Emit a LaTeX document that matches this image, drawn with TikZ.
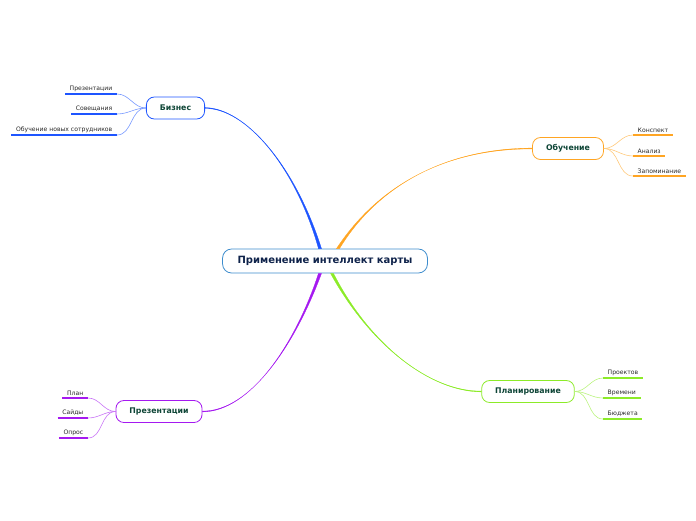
\documentclass[tikz,border=0pt]{standalone}
\usepackage{fontspec}
\setmainfont{DejaVu Sans}
\usetikzlibrary{positioning,calc}
\definecolor{bizBlue}{RGB}{30,85,255}
\definecolor{obuOrange}{RGB}{255,165,35}
\definecolor{planGreen}{RGB}{140,235,40}
\definecolor{prezPurple}{RGB}{165,25,240}
\definecolor{coreBlue}{RGB}{60,140,205}
\definecolor{coreText}{RGB}{15,35,75}
\definecolor{subText}{RGB}{15,70,55}
\definecolor{leafText}{RGB}{40,40,40}

\begin{document}
\begin{tikzpicture}[
  x=1pt, y=-1pt,
  core/.style={draw=coreBlue, rounded corners=9pt, fill=white, line width=0.8pt, minimum height=24pt, inner xsep=15pt, font=\fontsize{10}{11}\selectfont\bfseries, text=coreText},
  sub/.style={draw=#1, rounded corners=8pt, fill=white, line width=0.8pt, minimum height=22pt, inner xsep=13.5pt, font=\fontsize{7.8}{8.5}\selectfont\bfseries, text=subText},
  leaf/.style={inner xsep=4.5pt, inner ysep=2pt, font=\fontsize{6.1}{7}\selectfont, text=leafText},
  uline/.style={draw=#1, line width=1.6pt},
  twig/.style={draw=#1!60, line width=0.6pt},
  branch/.style={fill=#1, draw=#1, line width=0.3pt}
]
\useasboundingbox (0,0) rectangle (696,520);

% Centre
\node[core] (cen) at (325,261) {Применение интеллект карты};

% Sub topics
\node[sub=bizBlue] (biz) at (175.5,108) {Бизнес};
\node[sub=obuOrange] (obu) at (568,148.5) {Обучение};
\node[sub=planGreen] (plan) at (528,391.5) {Планирование};
\node[sub=prezPurple] (prez) at (159,411.5) {Презентации};

% Main branches
\fill[branch=bizBlue] ($(cen.north)+(-6.5,0)$) .. controls (295,165) and (245,108) .. ($(biz.east)+(0,0.4)$)
  -- ($(biz.east)+(0,-0.4)$) .. controls (245,108) and (295,165) .. ($(cen.north)+(-3.5,0)$) -- cycle;
\fill[branch=obuOrange] ($(cen.north)+(11.5,0)$) .. controls (375,190) and (440,148.5) .. ($(obu.west)+(0,0.4)$)
  -- ($(obu.west)+(0,-0.4)$) .. controls (440,148.5) and (375,190) .. ($(cen.north)+(14.5,0)$) -- cycle;
\fill[branch=planGreen] ($(cen.south)+(5.5,0)$) .. controls (370,345) and (430,391.5) .. ($(plan.west)+(0,0.4)$)
  -- ($(plan.west)+(0,-0.4)$) .. controls (430,391.5) and (370,345) .. ($(cen.south)+(8.5,0)$) -- cycle;
\fill[branch=prezPurple] ($(cen.south)+(-6.5,0)$) .. controls (295,345) and (250,411.5) .. ($(prez.east)+(0,0.4)$)
  -- ($(prez.east)+(0,-0.4)$) .. controls (250,411.5) and (295,345) .. ($(cen.south)+(-3.5,0)$) -- cycle;

% Leaves: Biznes
\node[leaf, anchor=south east] (b1) at (117,94) {Презентации};
\node[leaf, anchor=south east] (b2) at (117,114) {Совещания};
\node[leaf, anchor=south east] (b3) at (117,135) {Обучение новых сотрудников};
% Leaves: Obuchenie
\node[leaf, anchor=south west] (o1) at (633,135) {Конспект};
\node[leaf, anchor=south west] (o2) at (633,156) {Анализ};
\node[leaf, anchor=south west] (o3) at (633,176) {Запоминание};
% Leaves: Planirovanie
\node[leaf, anchor=south west] (p1) at (603,378) {Проектов};
\node[leaf, anchor=south west] (p2) at (603,398) {Времени};
\node[leaf, anchor=south west] (p3) at (603,419) {Бюджета};
% Leaves: Prezentatsii
\node[leaf, anchor=south east] (r1) at (88,398) {План};
\node[leaf, anchor=south east] (r2) at (88,418) {Сайды};
\node[leaf, anchor=south east] (r3) at (88,438) {Опрос};

% Underlines and twigs
\foreach \n in {b1,b2,b3} {
  \draw[uline=bizBlue] (\n.south west) -- (\n.south east);
  \draw[twig=bizBlue] (biz.west) to[out=180,in=0] (\n.south east);
}
\foreach \n in {o1,o2,o3} {
  \draw[uline=obuOrange] (\n.south west) -- (\n.south east);
  \draw[twig=obuOrange] (obu.east) to[out=0,in=180] (\n.south west);
}
\foreach \n in {p1,p2,p3} {
  \draw[uline=planGreen] (\n.south west) -- (\n.south east);
  \draw[twig=planGreen] (plan.east) to[out=0,in=180] (\n.south west);
}
\foreach \n in {r1,r2,r3} {
  \draw[uline=prezPurple] (\n.south west) -- (\n.south east);
  \draw[twig=prezPurple] (prez.west) to[out=180,in=0] (\n.south east);
}

\end{tikzpicture}
\end{document}
